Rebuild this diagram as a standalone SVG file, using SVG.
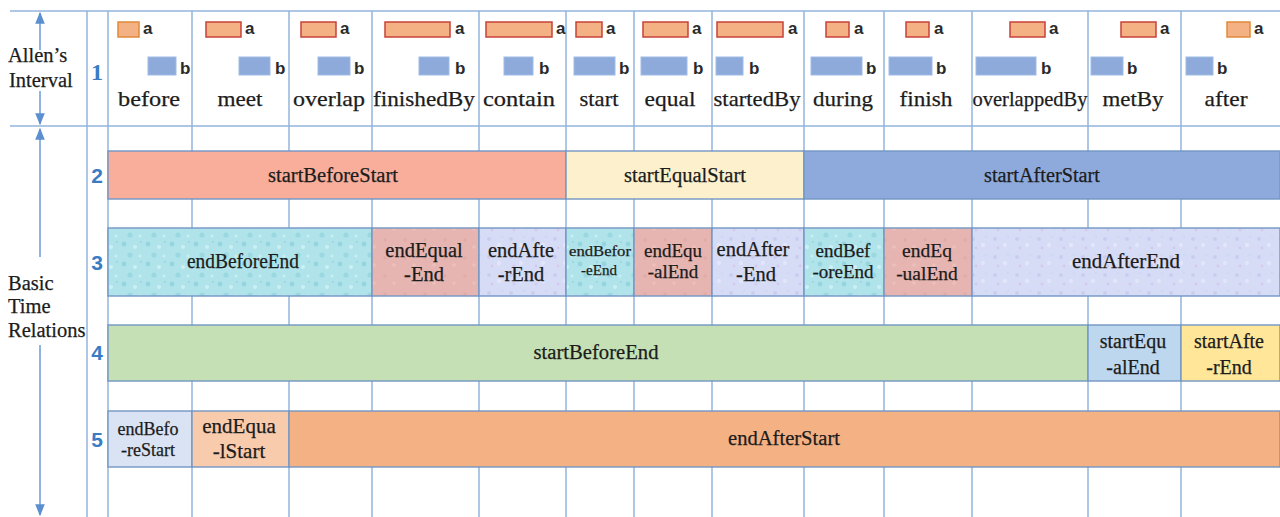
<svg xmlns="http://www.w3.org/2000/svg" width="1280" height="517" viewBox="0 0 1280 517">
  <defs>
    <style>
      .grid { stroke: #92b4dc; stroke-width: 1.5; fill: none; }
      .bar { stroke: #7396c4; stroke-width: 1.4; }
      .lbl { font-family: "Liberation Serif", "Times New Roman", serif; fill: #1c1c1c; stroke: #1c1c1c; stroke-width: 0.25; text-anchor: middle; }
      .hdr { font-family: "Liberation Serif", "Times New Roman", serif; font-size: 22px; fill: #1c1c1c; stroke: #1c1c1c; stroke-width: 0.25; text-anchor: middle; }
      .side { font-family: "Liberation Serif", "Times New Roman", serif; font-size: 20.5px; fill: #1c1c1c; stroke: #1c1c1c; stroke-width: 0.25; }
      .num { font-family: "Liberation Sans", Arial, sans-serif; font-weight: bold; font-size: 21px; fill: #3a7cc4; text-anchor: middle; }
      .ab { font-family: "Liberation Sans", Arial, sans-serif; font-weight: bold; font-size: 17px; fill: #2a2a2a; }
      .ia { fill: #f4b183; stroke: #c8413a; stroke-width: 1.5; }
      .ia2 { fill: #f4b183; stroke: #e08a3c; stroke-width: 1.5; }
      .ib { fill: #8eaadb; stroke: #9fbbe6; stroke-width: 1; }
      .axis { stroke: #6b9bd6; stroke-width: 1.5; fill: none; }
    </style>
    <marker id="tipEnd" viewBox="0 0 10 10" refX="9" refY="5" markerWidth="8" markerHeight="8" orient="auto">
      <path d="M0,1 L10,5 L0,9 Z" fill="#5b8fd0"/>
    </marker>
    <!-- water-drop texture -->
    <pattern id="aqua" width="24" height="20" patternUnits="userSpaceOnUse">
      <rect width="24" height="20" fill="#b0e4ea"/>
      <circle cx="4" cy="4" r="2.4" fill="#96d4df"/>
      <circle cx="15" cy="7" r="2" fill="#cbf1f5"/>
      <circle cx="10" cy="15" r="2.6" fill="#9bd8e2"/>
      <circle cx="20" cy="16" r="1.6" fill="#c6eef3"/>
      <circle cx="21" cy="2" r="1.3" fill="#a0d9e3"/>
    </pattern>
    <pattern id="lilac" width="22" height="18" patternUnits="userSpaceOnUse">
      <rect width="22" height="18" fill="#d7dcf6"/>
      <circle cx="5" cy="5" r="2" fill="#cacdf0"/>
      <circle cx="15" cy="11" r="2.2" fill="#e3e6fa"/>
      <circle cx="8" cy="14" r="1.4" fill="#d3c9ef"/>
      <circle cx="18" cy="3" r="1.3" fill="#cdd8f3"/>
    </pattern>
    <pattern id="rose" width="20" height="18" patternUnits="userSpaceOnUse">
      <rect width="20" height="18" fill="#e7b5b1"/>
      <circle cx="5" cy="6" r="1.8" fill="#e1aba7"/>
      <circle cx="14" cy="13" r="1.8" fill="#ecc0bc"/>
    </pattern>
  </defs>

  <rect width="1280" height="517" fill="#ffffff"/>

  <!-- table grid -->
  <g id="grid">
    <line class="grid" x1="10" y1="11" x2="1280" y2="11"/>
    <line class="grid" x1="10" y1="126" x2="1280" y2="126"/>
    <line class="grid" x1="87" y1="11" x2="87" y2="517"/>
    <line class="grid" x1="108" y1="11" x2="108" y2="517"/>
    <line class="grid" x1="192" y1="11" x2="192" y2="517"/>
    <line class="grid" x1="289" y1="11" x2="289" y2="517"/>
    <line class="grid" x1="372" y1="11" x2="372" y2="517"/>
    <line class="grid" x1="479" y1="11" x2="479" y2="517"/>
    <line class="grid" x1="566" y1="11" x2="566" y2="517"/>
    <line class="grid" x1="634" y1="11" x2="634" y2="517"/>
    <line class="grid" x1="712" y1="11" x2="712" y2="517"/>
    <line class="grid" x1="804" y1="11" x2="804" y2="517"/>
    <line class="grid" x1="884" y1="11" x2="884" y2="517"/>
    <line class="grid" x1="972" y1="11" x2="972" y2="517"/>
    <line class="grid" x1="1088" y1="11" x2="1088" y2="517"/>
    <line class="grid" x1="1181" y1="11" x2="1181" y2="517"/>
  </g>

  <!-- side axis arrows -->
  <g id="connectors">
    <line class="axis" x1="40" y1="50" x2="40" y2="13" marker-end="url(#tipEnd)"/>
    <line class="axis" x1="40" y1="91" x2="40" y2="124" marker-end="url(#tipEnd)"/>
    <line class="axis" x1="40" y1="257" x2="40" y2="129" marker-end="url(#tipEnd)"/>
    <line class="axis" x1="40" y1="345" x2="40" y2="515" marker-end="url(#tipEnd)"/>
  </g>

  <!-- side captions -->
  <g id="side-labels">
    <text class="side" x="8" y="62">Allen’s</text>
    <text class="side" x="9" y="87">Interval</text>
    <text class="side" x="8" y="290">Basic</text>
    <text class="side" x="8" y="313">Time</text>
    <text class="side" x="8" y="337">Relations</text>
  </g>

  <!-- row numbers -->
  <g id="row-numbers">
    <text class="num" x="97" y="80" style="font-family:'Liberation Serif',serif;font-size:24px">1</text>
    <text class="num" x="97" y="183">2</text>
    <text class="num" x="97" y="270">3</text>
    <text class="num" x="97" y="360">4</text>
    <text class="num" x="97" y="447">5</text>
  </g>

  <!-- row 1: Allen's interval relations -->
  <g id="allen-before">
    <rect class="ia2" x="118" y="22" width="21" height="15"/><text class="ab" x="143" y="34">a</text>
    <rect class="ib" x="148" y="57" width="28" height="18"/><text class="ab" x="180" y="74">b</text>
    <text class="hdr" x="149" y="106" textLength="62" lengthAdjust="spacingAndGlyphs">before</text>
  </g>
  <g id="allen-meet">
    <rect class="ia" x="206" y="22" width="35" height="15"/><text class="ab" x="245" y="34">a</text>
    <rect class="ib" x="239" y="57" width="31" height="18"/><text class="ab" x="275" y="74">b</text>
    <text class="hdr" x="240" y="106" textLength="45" lengthAdjust="spacingAndGlyphs">meet</text>
  </g>
  <g id="allen-overlap">
    <rect class="ia" x="301" y="22" width="35" height="15"/><text class="ab" x="340" y="34">a</text>
    <rect class="ib" x="318" y="57" width="32" height="18"/><text class="ab" x="354" y="74">b</text>
    <text class="hdr" x="329" y="106" textLength="72" lengthAdjust="spacingAndGlyphs">overlap</text>
  </g>
  <g id="allen-finishedBy">
    <rect class="ia" x="385" y="22" width="65" height="15"/><text class="ab" x="455" y="34">a</text>
    <rect class="ib" x="419" y="57" width="30" height="18"/><text class="ab" x="455" y="74">b</text>
    <text class="hdr" x="424" y="106" textLength="102" lengthAdjust="spacingAndGlyphs">finishedBy</text>
  </g>
  <g id="allen-contain">
    <rect class="ia" x="486" y="22" width="66" height="15"/><text class="ab" x="556" y="34">a</text>
    <rect class="ib" x="504" y="57" width="29" height="18"/><text class="ab" x="539" y="74">b</text>
    <text class="hdr" x="519" y="106" textLength="72" lengthAdjust="spacingAndGlyphs">contain</text>
  </g>
  <g id="allen-start">
    <rect class="ia" x="576" y="22" width="26" height="15"/><text class="ab" x="606" y="34">a</text>
    <rect class="ib" x="574" y="57" width="41" height="18"/><text class="ab" x="619" y="74">b</text>
    <text class="hdr" x="599" y="106" textLength="39" lengthAdjust="spacingAndGlyphs">start</text>
  </g>
  <g id="allen-equal">
    <rect class="ia" x="643" y="22" width="45" height="15"/><text class="ab" x="692" y="34">a</text>
    <rect class="ib" x="641" y="57" width="46" height="18"/><text class="ab" x="693" y="74">b</text>
    <text class="hdr" x="670" y="106" textLength="51" lengthAdjust="spacingAndGlyphs">equal</text>
  </g>
  <g id="allen-startedBy">
    <rect class="ia" x="717" y="22" width="66" height="15"/><text class="ab" x="788" y="34">a</text>
    <rect class="ib" x="716" y="57" width="27" height="18"/><text class="ab" x="749" y="74">b</text>
    <text class="hdr" x="757" y="106" textLength="87" lengthAdjust="spacingAndGlyphs">startedBy</text>
  </g>
  <g id="allen-during">
    <rect class="ia" x="826" y="22" width="23" height="15"/><text class="ab" x="854" y="34">a</text>
    <rect class="ib" x="811" y="57" width="51" height="18"/><text class="ab" x="866" y="74">b</text>
    <text class="hdr" x="843" y="106" textLength="60" lengthAdjust="spacingAndGlyphs">during</text>
  </g>
  <g id="allen-finish">
    <rect class="ia" x="906" y="22" width="23" height="15"/><text class="ab" x="934" y="34">a</text>
    <rect class="ib" x="889" y="57" width="43" height="18"/><text class="ab" x="936" y="74">b</text>
    <text class="hdr" x="926" y="106" textLength="53" lengthAdjust="spacingAndGlyphs">finish</text>
  </g>
  <g id="allen-overlappedBy">
    <rect class="ia" x="1010" y="22" width="35" height="15"/><text class="ab" x="1049" y="34">a</text>
    <rect class="ib" x="976" y="57" width="60" height="18"/><text class="ab" x="1041" y="74">b</text>
    <text class="hdr" x="1030" y="106" textLength="115" lengthAdjust="spacingAndGlyphs">overlappedBy</text>
  </g>
  <g id="allen-metBy">
    <rect class="ia" x="1121" y="22" width="35" height="15"/><text class="ab" x="1160" y="34">a</text>
    <rect class="ib" x="1091" y="57" width="32" height="18"/><text class="ab" x="1127" y="74">b</text>
    <text class="hdr" x="1133" y="106" textLength="61" lengthAdjust="spacingAndGlyphs">metBy</text>
  </g>
  <g id="allen-after">
    <rect class="ia2" x="1227" y="22" width="23" height="15"/><text class="ab" x="1254" y="34">a</text>
    <rect class="ib" x="1186" y="57" width="27" height="18"/><text class="ab" x="1217" y="74">b</text>
    <text class="hdr" x="1226" y="106" textLength="43" lengthAdjust="spacingAndGlyphs">after</text>
  </g>

  <!-- row 2 -->
  <g id="startBeforeStart">
    <rect class="bar" x="108" y="151" width="458" height="48" fill="#f8ae9a"/>
    <text class="lbl" x="333" y="182" font-size="20" textLength="130" lengthAdjust="spacingAndGlyphs">startBeforeStart</text>
  </g>
  <g id="startEqualStart">
    <rect class="bar" x="566" y="151" width="238" height="48" fill="#fdf0cd"/>
    <text class="lbl" x="685" y="182" font-size="20" textLength="122" lengthAdjust="spacingAndGlyphs">startEqualStart</text>
  </g>
  <g id="startAfterStart">
    <rect class="bar" x="804" y="151" width="476" height="48" fill="#8eaadc"/>
    <text class="lbl" x="1042" y="182" font-size="20" textLength="116" lengthAdjust="spacingAndGlyphs">startAfterStart</text>
  </g>

  <!-- row 3 -->
  <g id="endBeforeEnd">
    <rect class="bar" x="108" y="228" width="264" height="68" fill="url(#aqua)"/>
    <text class="lbl" x="243" y="268" font-size="20" textLength="112" lengthAdjust="spacingAndGlyphs">endBeforeEnd</text>
  </g>
  <g id="endEqual-End">
    <rect class="bar" x="372" y="228" width="107" height="68" fill="url(#rose)"/>
    <text class="lbl" x="424" y="257" font-size="20.5">endEqual</text>
    <text class="lbl" x="424" y="281" font-size="20.5">-End</text>
  </g>
  <g id="endAfte-rEnd">
    <rect class="bar" x="479" y="228" width="87" height="68" fill="url(#lilac)"/>
    <text class="lbl" x="521" y="257" font-size="20.5">endAfte</text>
    <text class="lbl" x="521" y="281" font-size="20.5">-rEnd</text>
  </g>
  <g id="endBefor-eEnd">
    <rect class="bar" x="566" y="228" width="68" height="68" fill="url(#aqua)"/>
    <text class="lbl" x="600" y="256" font-size="15" textLength="62" lengthAdjust="spacingAndGlyphs">endBefor</text>
    <text class="lbl" x="599" y="275" font-size="15">-eEnd</text>
  </g>
  <g id="endEqu-alEnd">
    <rect class="bar" x="634" y="228" width="78" height="68" fill="url(#rose)"/>
    <text class="lbl" x="673" y="257" font-size="19">endEqu</text>
    <text class="lbl" x="673" y="278" font-size="19">-alEnd</text>
  </g>
  <g id="endAfter-End">
    <rect class="bar" x="712" y="228" width="92" height="68" fill="url(#lilac)"/>
    <text class="lbl" x="753" y="256" font-size="20.5">endAfter</text>
    <text class="lbl" x="756" y="281" font-size="20.5">-End</text>
  </g>
  <g id="endBef-oreEnd">
    <rect class="bar" x="804" y="228" width="80" height="68" fill="url(#aqua)"/>
    <text class="lbl" x="843" y="257" font-size="19">endBef</text>
    <text class="lbl" x="843" y="278" font-size="19">-oreEnd</text>
  </g>
  <g id="endEq-ualEnd">
    <rect class="bar" x="884" y="228" width="88" height="68" fill="url(#rose)"/>
    <text class="lbl" x="927" y="257" font-size="19.5">endEq</text>
    <text class="lbl" x="927" y="280" font-size="19.5">-ualEnd</text>
  </g>
  <g id="endAfterEnd">
    <rect class="bar" x="972" y="228" width="308" height="68" fill="url(#lilac)"/>
    <text class="lbl" x="1126" y="268" font-size="20" textLength="108" lengthAdjust="spacingAndGlyphs">endAfterEnd</text>
  </g>

  <!-- row 4 -->
  <g id="startBeforeEnd">
    <rect class="bar" x="108" y="325" width="980" height="56" fill="#c5e0b4"/>
    <text class="lbl" x="596" y="359" font-size="20" textLength="125" lengthAdjust="spacingAndGlyphs">startBeforeEnd</text>
  </g>
  <g id="startEqu-alEnd">
    <rect class="bar" x="1088" y="325" width="93" height="56" fill="#bdd7ee"/>
    <text class="lbl" x="1133" y="348" font-size="20">startEqu</text>
    <text class="lbl" x="1133" y="374" font-size="20">-alEnd</text>
  </g>
  <g id="startAfte-rEnd">
    <rect class="bar" x="1181" y="325" width="99" height="56" fill="#ffe699"/>
    <text class="lbl" x="1229" y="348" font-size="20">startAfte</text>
    <text class="lbl" x="1229" y="374" font-size="20">-rEnd</text>
  </g>

  <!-- row 5 -->
  <g id="endBefo-reStart">
    <rect class="bar" x="108" y="411" width="84" height="56" fill="#dae3f3"/>
    <text class="lbl" x="148" y="435" font-size="18">endBefo</text>
    <text class="lbl" x="148" y="456" font-size="18">-reStart</text>
  </g>
  <g id="endEqua-lStart">
    <rect class="bar" x="192" y="411" width="97" height="56" fill="#f8cbad"/>
    <text class="lbl" x="239" y="433" font-size="21">endEqua</text>
    <text class="lbl" x="239" y="458" font-size="21">-lStart</text>
  </g>
  <g id="endAfterStart">
    <rect class="bar" x="289" y="411" width="991" height="56" fill="#f4b183"/>
    <text class="lbl" x="784" y="445" font-size="20" textLength="112" lengthAdjust="spacingAndGlyphs">endAfterStart</text>
  </g>
</svg>
